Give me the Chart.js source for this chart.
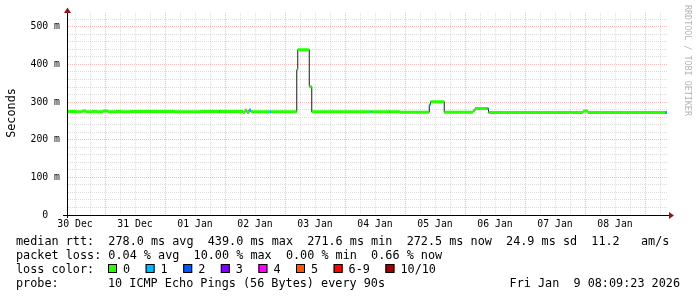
<!DOCTYPE html>
<html><head><meta charset="utf-8">
<script src="https://cdn.jsdelivr.net/npm/chart.js@4/dist/chart.umd.min.js"></script>
<style>html,body{margin:0;padding:0;background:#fff}canvas{display:block}</style>
</head><body>
<canvas id="c" width="697" height="297"></canvas>
<script>
// ---- data (hours since 30 Dec 00:00, median RTT in ms, lost pings of 10) ----
const hours = [8.8, 12.4, 14.8, 16.4, 18.8, 20.8, 23.2, 25.2, 28.4, 30.8, 34.0, 52.0, 62.0,
  69.6, 70.0, 79.2, 80.0, 80.8, 81.6, 82.4, 90.0, 90.4,
  100.7, 101.1, 105.7, 106.7, 130.2, 130.6, 137.6, 138.0, 142.0,
  153.7, 154.2, 159.7, 171.2, 172.0, 176.9, 177.4, 194.0,
  209.6, 210.4, 215.2, 217.2, 248.0, 248.8];
const medianMs = [275, 274, 276, 274, 275, 274, 276, 274, 275, 274, 275, 274, 275,
  275, 275, 273, 278, 272, 279, 274, 274, 274,
  386, 439, 341, 274, 274, 274, 274, 274, 273,
  293, 301, 273, 277, 283, 283, 272, 272,
  273, 272, 276, 272, 272, 272];
const lossCount = [0, 0, 0, 0, 0, 0, 0, 0, 0, 0, 0, 0, 0,
  1, 0, 0, 0, 0, 1, 0, 1, 0,
  0, 0, 0, 0, 1, 0, 1, 0, 0,
  1, 0, 0, 0, 0, 1, 0, 0,
  0, 0, 0, 0, 1, 0];
const dayLabels = ['30 Dec', '31 Dec', '01 Jan', '02 Jan', '03 Jan', '04 Jan', '05 Jan', '06 Jan', '07 Jan', '08 Jan'];
const yLabelStep = 100;
const rttStats = 'median rtt:  278.0 ms avg  439.0 ms max  271.6 ms min  272.5 ms now  24.9 ms sd  11.2   am/s';
const lossStats = 'packet loss: 0.04 % avg  10.00 % max  0.00 % min  0.66 % now';
const lossLabels = ['0', '1', '2', '3', '4', '5', '6-9', '10/10'];
const probeText = '10 ICMP Echo Pings (56 Bytes) every 90s';
const stampText = 'Fri Jan  9 08:09:23 2026';
const yTitle = 'Seconds';
const sideText = 'RRDTOOL / TOBI OETIKER';

// ---- styles ----
const lossPalette = ['#26ff00', '#00b8ff', '#0059ff', '#7e00ff', '#ff00ff', '#ff5500', '#ff0000', '#a10000'];
const MONO = "'DejaVu Sans Mono', monospace";
const MAJOR = 'rgba(215,80,80,0.38)';
const MINOR = 'rgba(150,150,150,0.32)';

const medianLine = hours.map((h, i) => ({x: h, y: medianMs[i]}));
function bandFor(cls) {
  const out = [];
  for (let i = 0; i < hours.length - 1; i++) {
    if (lossCount[i] === cls) {
      out.push({x: hours[i], y: medianMs[i]}, {x: hours[i + 1], y: medianMs[i]}, {x: hours[i + 1], y: null});
    }
  }
  return out;
}

const decor = {
  id: 'decor',
  beforeDraw(chart) {
    const c = chart.ctx;
    c.save(); c.fillStyle = '#fff'; c.fillRect(0, 0, chart.width, chart.height); c.restore();
  },
  afterDraw(chart) {
    const c = chart.ctx, a = chart.chartArea;
    c.save();
    c.strokeStyle = '#000'; c.lineWidth = 1;
    c.beginPath(); c.moveTo(63, a.bottom + 0.5); c.lineTo(a.right + 1, a.bottom + 0.5); c.stroke();
    c.beginPath(); c.moveTo(a.left + 0.5, a.bottom + 3); c.lineTo(a.left + 0.5, 11); c.stroke();
    c.fillStyle = '#8b1a1a';
    c.beginPath(); c.moveTo(a.left + 0.5, 7.5); c.lineTo(a.left - 3, 13); c.lineTo(a.left + 4, 13); c.closePath(); c.fill();
    c.beginPath(); c.moveTo(a.right + 6, a.bottom + 0.5); c.lineTo(a.right + 1, a.bottom - 3); c.lineTo(a.right + 1, a.bottom + 4); c.closePath(); c.fill();
    c.fillStyle = '#000';
    c.font = '11.8px ' + MONO;
    c.save(); c.translate(15, 113); c.rotate(-Math.PI / 2);
    c.textAlign = 'center'; c.textBaseline = 'alphabetic'; c.fillText(yTitle, 0, 0); c.restore();
    c.save(); c.fillStyle = '#b4b4b4'; c.font = '8.4px ' + MONO;
    c.translate(685, 5); c.rotate(Math.PI / 2);
    c.textAlign = 'left'; c.textBaseline = 'alphabetic'; c.fillText(sideText, 0, 0); c.restore();
    c.fillStyle = '#000'; c.font = '11.8px ' + MONO; c.textAlign = 'left'; c.textBaseline = 'alphabetic';
    c.fillText(rttStats, 16, 245);
    c.fillText(lossStats, 16, 259);
    c.fillText('loss color:', 16, 273);
    let x = 108;
    lossLabels.forEach((lab, i) => {
      c.fillStyle = lossPalette[i];
      c.fillRect(x, 264, 9, 9);
      c.strokeStyle = '#000'; c.lineWidth = 1;
      c.strokeRect(x + 0.5, 264.5, 8, 8);
      c.fillStyle = '#000';
      c.fillText(lab, x + 15, 273);
      x = x + 15 + c.measureText(lab).width + 15.5;
    });
    c.fillText('probe:', 16, 287);
    c.fillText(probeText, 108, 287);
    c.textAlign = 'right';
    c.fillText(stampText, 680, 287);
    c.restore();
  }
};

new Chart(document.getElementById('c'), {
  type: 'line',
  data: {
    datasets: [
      {data: bandFor(0), borderColor: lossPalette[0], borderWidth: 3, borderCapStyle: 'butt', spanGaps: false, order: 1},
      {data: bandFor(1), borderColor: lossPalette[1], borderWidth: 3, borderCapStyle: 'butt', spanGaps: false, order: 0},
      {data: medianLine, borderColor: '#1a1a1a', borderWidth: 1, stepped: 'before', order: 3}
    ]
  },
  options: {
    responsive: false,
    animation: false,
    devicePixelRatio: 1,
    elements: {point: {radius: 0}, line: {tension: 0}},
    layout: {padding: {top: 12, right: 29, left: 0, bottom: 0}},
    plugins: {legend: {display: false}, tooltip: {enabled: false}},
    scales: {
      x: {
        type: 'linear', min: 8.8, max: 249.2,
        afterBuildTicks: s => { const t = []; for (let h = 12; h <= 246; h += 6) t.push({value: h}); s.ticks = t; },
        afterFit: s => { s.height = 82; },
        ticks: {
          autoSkip: false, maxRotation: 0, minRotation: 0, padding: 4, color: '#000',
          font: {family: MONO, size: 9.8},
          callback: v => (v % 24 === 12) ? dayLabels[(v - 12) / 24] : ''
        },
        grid: {drawTicks: false, lineWidth: 1, color: ctx => (ctx.tick && ctx.tick.value % 24 === 0) ? MAJOR : MINOR},
        border: {color: '#000', width: 1, dash: [1, 1]}
      },
      y: {
        type: 'linear', min: 0, max: 537,
        afterBuildTicks: s => { const t = []; for (let v = 0; v <= 520; v += 20) t.push({value: v}); s.ticks = t; },
        afterFit: s => { s.width = 67; },
        ticks: {
          autoSkip: false, crossAlign: 'center', padding: 7, color: '#000',
          font: {family: MONO, size: 9.8},
          callback: v => (v % yLabelStep === 0) ? (v === 0 ? '0' : v + ' m') : ''
        },
        grid: {drawTicks: false, lineWidth: 1, color: ctx => (ctx.tick && ctx.tick.value % yLabelStep === 0) ? MAJOR : MINOR},
        border: {color: '#000', width: 1, dash: [1, 1]}
      }
    }
  },
  plugins: [decor]
});
</script>
</body></html>
